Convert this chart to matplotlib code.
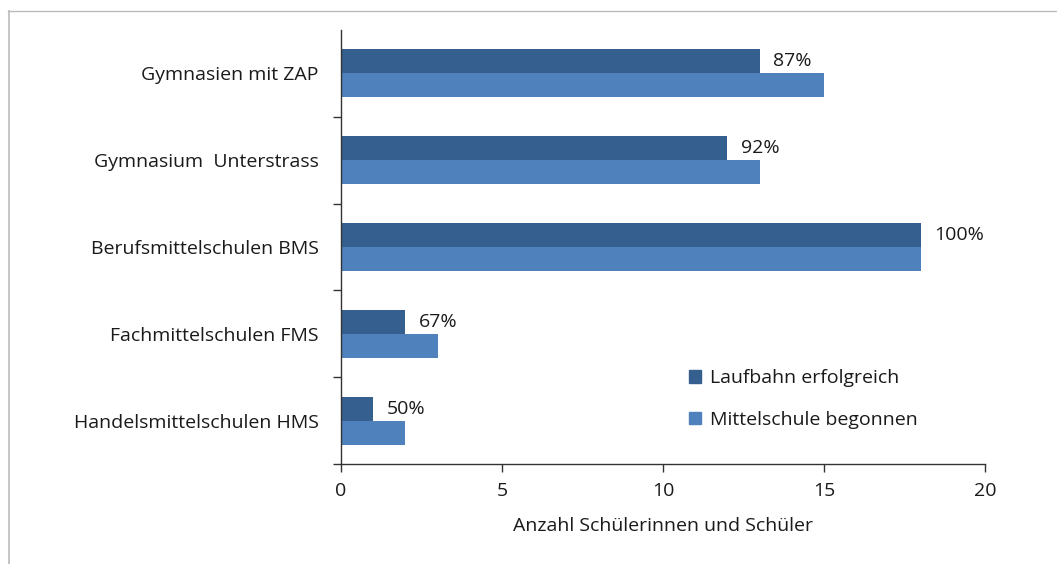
"""Horizontal bar chart: Mittelschule begonnen vs. Laufbahn erfolgreich."""

import matplotlib.pyplot as plt
from matplotlib.lines import Line2D
from matplotlib.patches import Patch

plt.rcParams["font.family"] = ["Open Sans", "DejaVu Sans"]

SCHOOLS = [
    "Gymnasien mit ZAP",
    "Gymnasium  Unterstrass",
    "Berufsmittelschulen BMS",
    "Fachmittelschulen FMS",
    "Handelsmittelschulen HMS",
]
ERFOLGREICH = [13, 12, 18, 2, 1]
BEGONNEN = [15, 13, 18, 3, 2]
PERCENT_LABELS = ["87%", "92%", "100%", "67%", "50%"]

DARK = "#355f8f"
LIGHT = "#4f81bd"
TEXT = "#1a1a1a"
FS = 14
BAR_H = 0.276

fig = plt.figure(figsize=(10.57, 5.64), dpi=100)
ax = fig.add_axes([0.3226, 0.1773, 0.6093, 0.7695])

pos = list(range(len(SCHOOLS)))
ax.barh([p - BAR_H / 2 for p in pos], ERFOLGREICH, height=BAR_H, color=DARK)
ax.barh([p + BAR_H / 2 for p in pos], BEGONNEN, height=BAR_H, color=LIGHT)

for p, val, txt in zip(pos, ERFOLGREICH, PERCENT_LABELS):
    ax.annotate(txt, (val, p - BAR_H / 2), xytext=(10, 0), textcoords="offset points",
                va="center", ha="left", fontsize=FS, color=TEXT)

ax.set_xlim(0, 20)
ax.set_ylim(len(SCHOOLS) - 0.5, -0.5)
ax.set_xticks([0, 5, 10, 15, 20])
ax.set_yticks(pos)
ax.set_yticklabels(SCHOOLS)
ax.set_yticks([p + 0.5 for p in pos], minor=True)
ax.tick_params(axis="y", which="major", length=0, pad=16, labelsize=FS,
               labelcolor=TEXT)
ax.tick_params(axis="y", which="minor", length=6, width=1, color="#333333")
ax.tick_params(axis="x", length=6, width=1, color="#333333", labelsize=FS,
               labelcolor=TEXT, pad=7)
ax.set_xlabel("Anzahl Schülerinnen und Schüler", fontsize=FS, color=TEXT,
              labelpad=12)

for side in ("top", "right"):
    ax.spines[side].set_visible(False)
for side in ("left", "bottom"):
    ax.spines[side].set_color("#333333")
    ax.spines[side].set_linewidth(1)

handles = [Patch(color=DARK, label="Laufbahn erfolgreich"),
           Patch(color=LIGHT, label="Mittelschule begonnen")]
ax.legend(handles=handles, loc="lower left", bbox_to_anchor=(0.52, 0.05),
          frameon=False, fontsize=FS, handlelength=0.6, handleheight=0.6,
          handletextpad=0.45, labelspacing=1.2, labelcolor=TEXT,
          borderaxespad=0.3)

# thin gray frame lines at the top and left of the figure
fig.add_artist(Line2D([8 / 1057, 1], [1 - 11 / 564] * 2, color="#bbbbbb", lw=1,
                      transform=fig.transFigure))
fig.add_artist(Line2D([9 / 1057] * 2, [0, 1 - 11 / 564], color="#bbbbbb", lw=1.2,
                      transform=fig.transFigure))

fig.savefig("out.png", dpi=100)
